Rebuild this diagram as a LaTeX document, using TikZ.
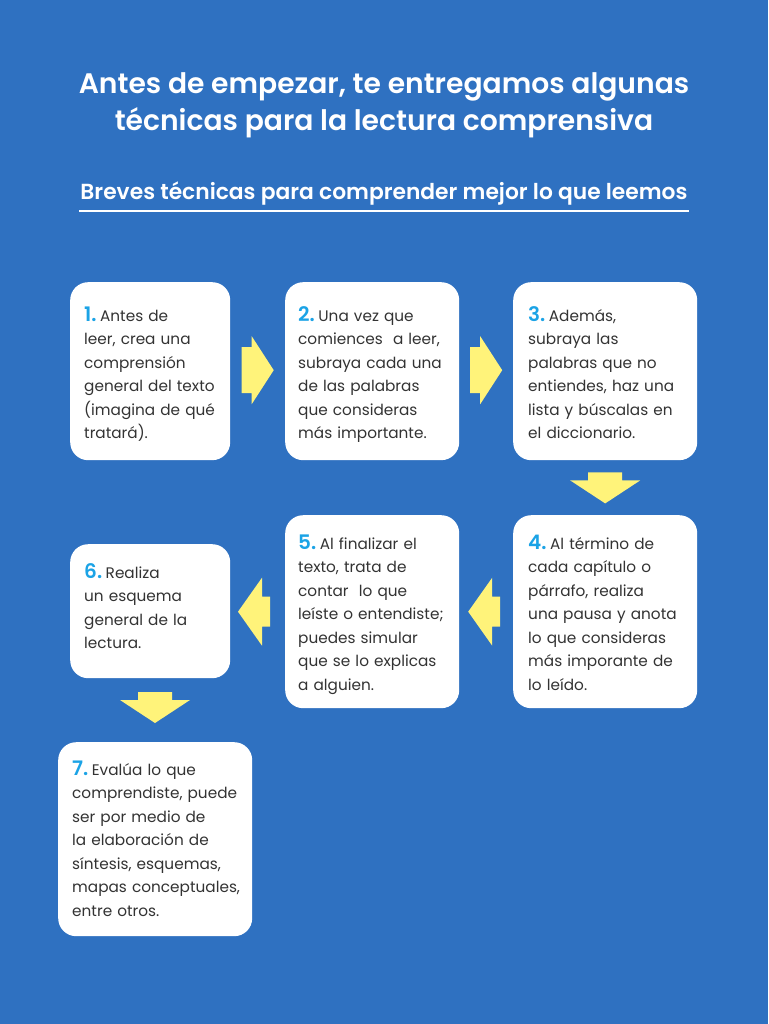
\documentclass[tikz,border=0pt]{standalone}
\usepackage{fontspec}
\setmainfont{Poppins}
\newfontfamily\titlefont{Poppins SemiBold}
\usetikzlibrary{calc}
\definecolor{bgblue}{HTML}{2F71C1}
\definecolor{numblue}{HTML}{1BA3E6}
\definecolor{bodygray}{HTML}{333333}
\definecolor{arrowyellow}{HTML}{FFF37A}
\newcommand{\stepnum}[1]{{\fontsize{20}{20}\selectfont\titlefont\color{numblue}#1.}\hspace{3.5pt}}
\tikzset{
  card/.style={fill=white, rounded corners=18pt, draw=none, inner sep=0pt},
  cardtext/.style={anchor=base west, inner sep=0pt, align=left, text=bodygray,
    font=\fontsize{15.3}{23.5}\selectfont},
  rarrow/.pic={\fill[arrowyellow] (-16,-23) -- (-6,-23) -- (-6,-34) -- (16,0) -- (-6,34) -- (-6,23) -- (-16,23) -- cycle;},
  larrow/.pic={\fill[arrowyellow] (16,-15) -- (8,-15) -- (8,-34) -- (-16,0) -- (8,34) -- (8,15) -- (16,15) -- cycle;},
  darrow/.pic={\fill[arrowyellow] (-17,-16) -- (17,-16) -- (17,-8) -- (35,-8) -- (0,15) -- (-35,-8) -- (-17,-8) -- cycle;},
}
\begin{document}
\begin{tikzpicture}[x=1pt,y=-1pt]
\fill[bgblue] (0,0) rectangle (768,1024);
\useasboundingbox (0,0) rectangle (768,1024);

% title
\node[text=white, font=\fontsize{28.2}{37}\selectfont\titlefont, align=center] (title) at (384,105.5)
  {Antes de empezar, te entregamos algunas\\técnicas para la lectura comprensiva};
\node[text=white, font=\fontsize{21.8}{24}\selectfont\titlefont, anchor=base, inner sep=0pt] (sub) at (384,200)
  {Breves técnicas para comprender mejor lo que leemos};
\coordinate (ulL) at (79,211);
\coordinate (ulR) at (689,211);
\draw[white, line width=1.8pt] (ulL) -- (ulR);

% cards
\node[card, minimum width=160pt, minimum height=178pt, anchor=north west] (b1) at (70,282) {};
\node[card, minimum width=174pt, minimum height=178pt, anchor=north west] (b2) at (285,282) {};
\node[card, minimum width=184pt, minimum height=178pt, anchor=north west] (b3) at (513,282) {};
\node[card, minimum width=184pt, minimum height=193pt, anchor=north west] (b4) at (513,515) {};
\node[card, minimum width=174pt, minimum height=193pt, anchor=north west] (b5) at (285,515) {};
\node[card, minimum width=160pt, minimum height=134pt, anchor=north west] (b6) at (70,544) {};
\node[card, minimum width=194pt, minimum height=194pt, anchor=north west] (b7) at (58,742) {};

% texts
\node[cardtext, text width=150pt] (t1) at ($(b1.north west)+(14,39)$)
  {\stepnum{1}Antes de\\leer, crea una\\comprensión\\general del texto\\(imagina de qué\\tratará).};
\node[cardtext, text width=165pt] (t2) at ($(b2.north west)+(13,39)$)
  {\stepnum{2}Una vez que\\comiences\ \ a leer,\\subraya cada una\\de las palabras\\que consideras\\más importante.};
\node[cardtext, text width=175pt] (t3) at ($(b3.north west)+(15,39)$)
  {\stepnum{3}Además,\\subraya las\\palabras que no\\entiendes, haz una\\lista y búscalas en\\el diccionario.};
\node[cardtext, text width=175pt] (t4) at ($(b4.north west)+(15,34)$)
  {\stepnum{4}Al término de\\cada capítulo o\\párrafo, realiza\\una pausa y anota\\lo que consideras\\más imporante de\\lo leído.};
\node[cardtext, text width=165pt] (t5) at ($(b5.north west)+(13,34)$)
  {\stepnum{5}Al finalizar el\\texto, trata de\\contar\ \ lo que\\leíste o entendiste;\\puedes simular\\que se lo explicas\\a alguien.};
\node[cardtext, text width=150pt] (t6) at ($(b6.north west)+(14,34)$)
  {\stepnum{6}Realiza\\un esquema\\general de la\\lectura.};
\node[cardtext, text width=185pt] (t7) at ($(b7.north west)+(14,33)$)
  {\stepnum{7}Evalúa lo que\\comprendiste, puede\\ser por medio de\\la elaboración de\\síntesis, esquemas,\\mapas conceptuales,\\entre otros.};

% arrows between cards
\path ($(b1.east)!0.5!(b2.west)$) coordinate (a12);
\path ($(b2.east)!0.5!(b3.west)$) coordinate (a23);
\path (b3.south) ++(0,28) coordinate (a34);
\path ($(b4.west)!0.5!(b5.east)$) coordinate (a45);
\path (b5.west) ++(-31,0) coordinate (a56);
\path (155,708) coordinate (a67);

\pic at ([yshift=1pt]a12) {rarrow};
\pic at ([yshift=1pt]a23) {rarrow};
\pic at (a34) {darrow};
\pic at ([xshift=-2pt]a45) {larrow};
\pic at (a56) {larrow};
\pic at (a67) {darrow};
\end{tikzpicture}
\end{document}
